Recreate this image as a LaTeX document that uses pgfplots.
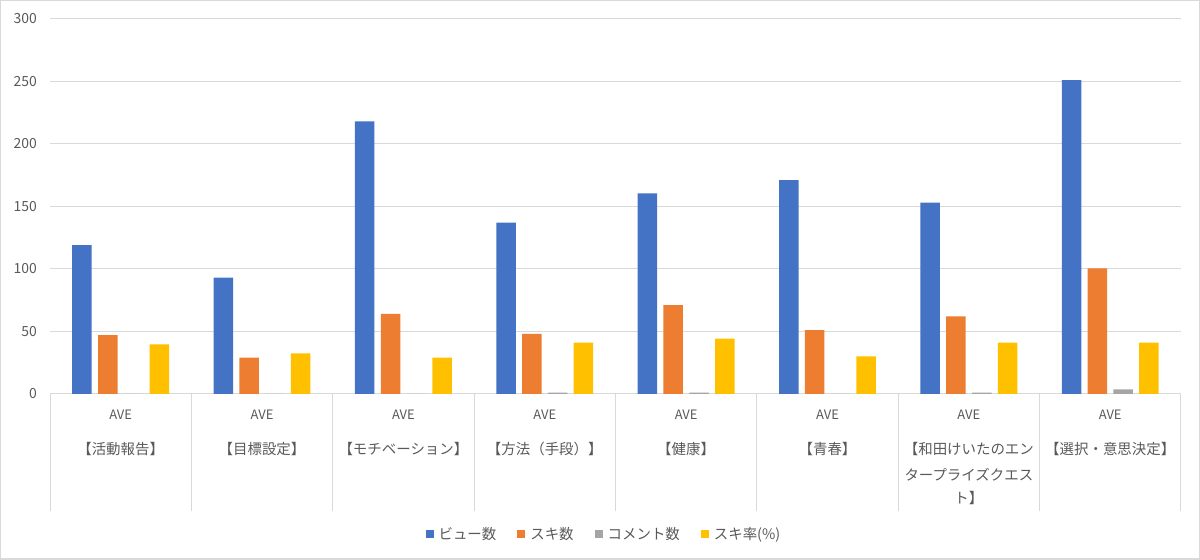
\documentclass[border=0pt]{standalone}
\usepackage{pgfplots}
\pgfplotsset{compat=1.18}
\usepackage{fontspec}
\setmainfont{Noto Sans CJK JP}
\definecolor{cblue}{HTML}{4472C4}
\definecolor{corange}{HTML}{ED7D31}
\definecolor{cgray}{HTML}{A5A5A5}
\definecolor{cyellow}{HTML}{FFC000}
\definecolor{textgray}{HTML}{595959}
\definecolor{gridgray}{HTML}{D9D9D9}
\definecolor{bordergray}{HTML}{D9D9D9}
\begin{document}
\begin{tikzpicture}[x=1bp,y=1bp]
\useasboundingbox (0,0) rectangle (1200,560);
\draw[color=bordergray, line width=1.5bp] (0.75,0.75) rectangle (1199.25,559.25);
\begin{axis}[
  at={(50bp,166bp)}, anchor=south west,
  width=1131bp, height=375bp, scale only axis,
  xmin=0, xmax=8, ymin=0, ymax=300,
  clip=false,
  axis line style={draw=none},
  ytick={0,50,...,300},
  ymajorgrids, grid style={color=gridgray, line width=1bp},
  xtick={0.5,1.5,...,7.5},
  xtick pos=bottom, ytick pos=left,
  major tick length=0pt,
  x tick style={draw=none}, y tick style={draw=none},
  /pgf/number format/assume math mode=true,
  yticklabel style={font=\fontsize{14}{16}\selectfont, text=textgray, inner sep=0pt, xshift=-13bp},
  xticklabels={
    {{\fontsize{13}{16}\selectfont AVE}\\[10bp]【活動報告】},
    {{\fontsize{13}{16}\selectfont AVE}\\[10bp]【目標設定】},
    {{\fontsize{13}{16}\selectfont AVE}\\[10bp]【モチベーション】},
    {{\fontsize{13}{16}\selectfont AVE}\\[10bp]【方法（手段）】},
    {{\fontsize{13}{16}\selectfont AVE}\\[10bp]【健康】},
    {{\fontsize{13}{16}\selectfont AVE}\\[10bp]【青春】},
    {{\fontsize{13}{16}\selectfont AVE}\\[10bp]【和田けいたのエン\\[1bp]タープライズクエス\\[-2bp]ト】},
    {{\fontsize{13}{16}\selectfont AVE}\\[10bp]【選択・意思決定】}},
  xticklabel style={align=center, anchor=north, font=\fontsize{14.5}{25}\selectfont, text=textgray, inner sep=0pt, yshift=-16bp},
  ybar=6.3bp, bar width=19.5bp,
  legend columns=4,
  legend style={draw=none, fill=none, at={(0.4898,-0.3733)}, anchor=center,
    font=\fontsize{14.5}{16}\selectfont, text=textgray,
    /tikz/every odd column/.append style={column sep=3bp},
    /tikz/every even column/.append style={column sep=19bp}},
  legend image code/.code={\fill[#1] (0bp,-4bp) rectangle (8bp,4bp);},
]
\addplot[fill=cblue, draw=none] coordinates {(0.5,119) (1.5,93) (2.5,218) (3.5,137) (4.5,160.5) (5.5,171) (6.5,153) (7.5,251)};
\addplot[fill=corange, draw=none] coordinates {(0.5,47) (1.5,29) (2.5,64) (3.5,48) (4.5,71) (5.5,51) (6.5,62) (7.5,100.5)};
\addplot[fill=cgray, draw=none] coordinates {(0.5,0) (1.5,0) (2.5,0) (3.5,1) (4.5,1) (5.5,0) (6.5,1) (7.5,3.7)};
\addplot[fill=cyellow, draw=none] coordinates {(0.5,39.7) (1.5,32.5) (2.5,29) (3.5,41) (4.5,44.3) (5.5,30) (6.5,41) (7.5,41)};
\legend{ビュー数,スキ数,コメント数,スキ率(\%)}
\pgfplotsinvokeforeach{0,...,8}{\draw[gridgray, line width=1bp] (axis cs:#1,0) -- ++(0,-117bp);}
\end{axis}
\end{tikzpicture}
\end{document}
